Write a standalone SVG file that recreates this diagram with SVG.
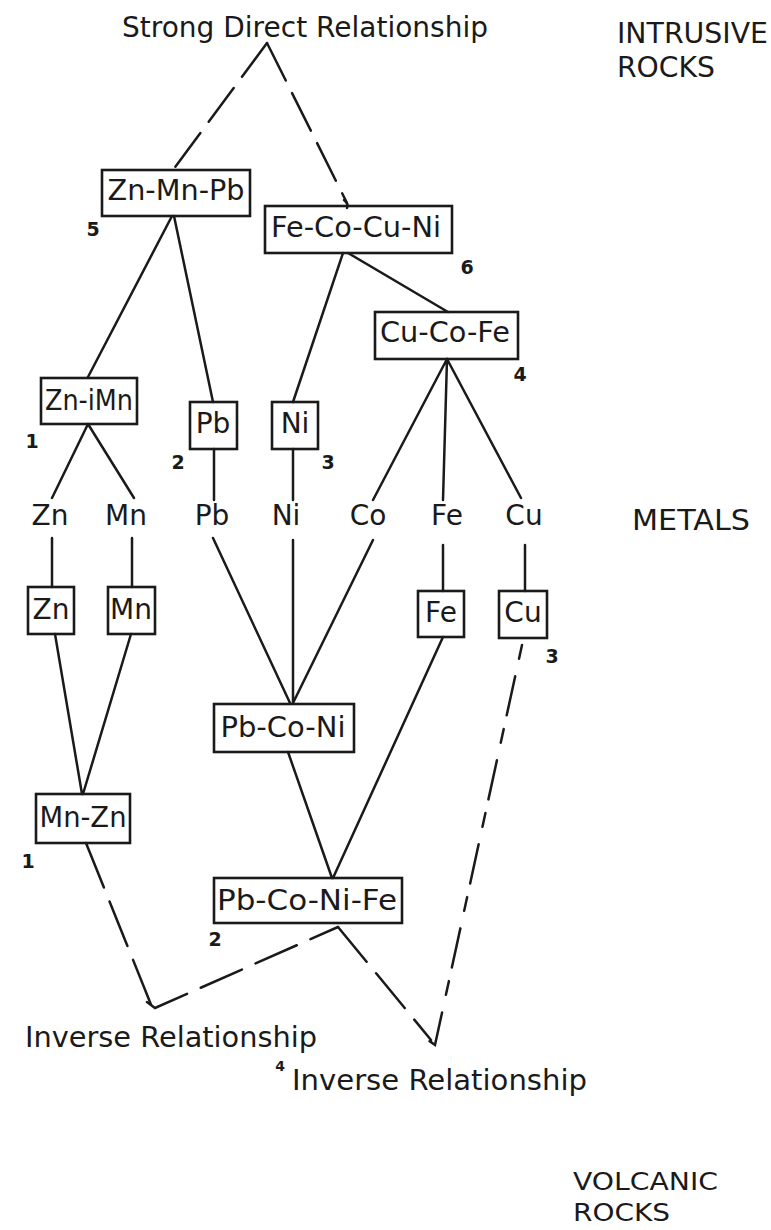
<svg xmlns="http://www.w3.org/2000/svg" width="771" height="1230" viewBox="0 0 771 1230">
<style>
.t{font-family:"DejaVu Sans","Liberation Sans",sans-serif;font-size:28px;fill:#1a1a1a}
.m{text-anchor:middle}
.n{font-family:"DejaVu Sans","Liberation Sans",sans-serif;font-size:19px;font-weight:bold;fill:#1a1a1a;text-anchor:middle}
.box{fill:none;stroke:#1a1a1a;stroke-width:2.6}
.ln{fill:none;stroke:#1a1a1a;stroke-width:2.5;stroke-linecap:round}
.d{stroke-dasharray:42 14}
</style>
<rect width="771" height="1230" fill="#ffffff"/>

<g id="labels">
<text class="t" x="122" y="37" textLength="366" lengthAdjust="spacingAndGlyphs">Strong Direct Relationship</text>
<text class="t" x="617" y="43" textLength="151" lengthAdjust="spacingAndGlyphs">INTRUSIVE</text>
<text class="t" x="617" y="77" textLength="98" lengthAdjust="spacingAndGlyphs">ROCKS</text>
<text class="t" x="632" y="530" textLength="118" lengthAdjust="spacingAndGlyphs">METALS</text>
<text class="t" x="573" y="1190" style="font-size:25px" textLength="145" lengthAdjust="spacingAndGlyphs">VOLCANIC</text>
<text class="t" x="573" y="1221" style="font-size:25px" textLength="97" lengthAdjust="spacingAndGlyphs">ROCKS</text>
<text class="t" x="25" y="1047" textLength="292" lengthAdjust="spacingAndGlyphs">Inverse Relationship</text>
<text class="t" x="292" y="1090" textLength="295" lengthAdjust="spacingAndGlyphs">Inverse Relationship</text>
<text class="n" x="280" y="1071" style="font-size:14px">4</text>
</g>

<g id="connectors">
<path class="ln" d="M172 216L88 377M174 216L213 402M343 253L293 402M348 253L448 312"/>
<path class="ln" d="M88 424L52 498M88 424L134 498M214 449V500M293 449V500"/>
<path class="ln" d="M447 359L373 500M447 359L443 500M447 359L521 498"/>
<path class="ln" d="M52 538V587M132 538V587M213 538L290 703M293 540V703M373 540L293 703M443 545V591M525 545V591"/>
<path class="ln" d="M55 634L82 794M131 634L83 794M288 752L332 878M443 637L333 878"/>
<path class="ln d" d="M267 43L173 170"/>
<path class="ln d" d="M267 43L347 203"/>
<path class="ln" d="M344 200Q349 204 347 208"/>
<path class="ln d" style="stroke-dasharray:48 15" d="M86 843L152 1007"/>
<path class="ln d" style="stroke-dasharray:45 15" d="M147 1002L155 1008L338 927"/>
<path class="ln d" style="stroke-dasharray:45 15" d="M338 927L431 1040"/>
<path class="ln d" style="stroke-dasharray:14 18 40 14" d="M522 645L435 1045L428 1040"/>
</g>

<g id="n-zn-mn-pb"><rect class="box" x="102" y="170" width="148" height="46"/><text class="t m" x="176" y="200" textLength="137" lengthAdjust="spacingAndGlyphs">Zn-Mn-Pb</text><text class="n" x="93" y="236">5</text></g>
<g id="n-fe-co-cu-ni"><rect class="box" x="265" y="206" width="187" height="47"/><text class="t m" x="356" y="237" textLength="170" lengthAdjust="spacingAndGlyphs">Fe-Co-Cu-Ni</text><text class="n" x="467" y="274">6</text></g>
<g id="n-cu-co-fe"><rect class="box" x="375" y="312" width="143" height="47"/><text class="t m" x="445" y="342" textLength="130" lengthAdjust="spacingAndGlyphs">Cu-Co-Fe</text><text class="n" x="520" y="381">4</text></g>
<g id="n-zn-imn"><rect class="box" x="41" y="378" width="96" height="46"/><text class="t m" x="89" y="410" textLength="88" lengthAdjust="spacingAndGlyphs">Zn-iMn</text><text class="n" x="32" y="448">1</text></g>
<g id="n-pb-box"><rect class="box" x="190" y="402" width="47" height="47"/><text class="t m" x="213" y="433">Pb</text><text class="n" x="178" y="469">2</text></g>
<g id="n-ni-box"><rect class="box" x="272" y="402" width="46" height="47"/><text class="t m" x="295" y="433">Ni</text><text class="n" x="328" y="469">3</text></g>

<g id="m-zn"><text class="t m" x="50" y="525">Zn</text></g>
<g id="m-mn"><text class="t m" x="126" y="525">Mn</text></g>
<g id="m-pb"><text class="t m" x="212" y="525">Pb</text></g>
<g id="m-ni"><text class="t m" x="286" y="525">Ni</text></g>
<g id="m-co"><text class="t m" x="368" y="525">Co</text></g>
<g id="m-fe"><text class="t m" x="447" y="525">Fe</text></g>
<g id="m-cu"><text class="t m" x="524" y="525">Cu</text></g>

<g id="n-zn-box"><rect class="box" x="28" y="587" width="46" height="47"/><text class="t m" x="51" y="619">Zn</text></g>
<g id="n-mn-box"><rect class="box" x="108" y="587" width="47" height="47"/><text class="t m" x="131" y="619">Mn</text></g>
<g id="n-fe-box"><rect class="box" x="418" y="591" width="46" height="46"/><text class="t m" x="441" y="622">Fe</text></g>
<g id="n-cu-box"><rect class="box" x="499" y="591" width="48" height="47"/><text class="t m" x="523" y="622">Cu</text><text class="n" x="552" y="663">3</text></g>
<g id="n-pb-co-ni"><rect class="box" x="214" y="704" width="140" height="48"/><text class="t m" x="283" y="737" textLength="125" lengthAdjust="spacingAndGlyphs">Pb-Co-Ni</text></g>
<g id="n-mn-zn"><rect class="box" x="36" y="794" width="94" height="49"/><text class="t m" x="83" y="827" textLength="87" lengthAdjust="spacingAndGlyphs">Mn-Zn</text><text class="n" x="28" y="868">1</text></g>
<g id="n-pb-co-ni-fe"><rect class="box" x="214" y="878" width="188" height="45"/><text class="t m" x="307" y="910" textLength="180" lengthAdjust="spacingAndGlyphs">Pb-Co-Ni-Fe</text><text class="n" x="215" y="946">2</text></g>
</svg>
